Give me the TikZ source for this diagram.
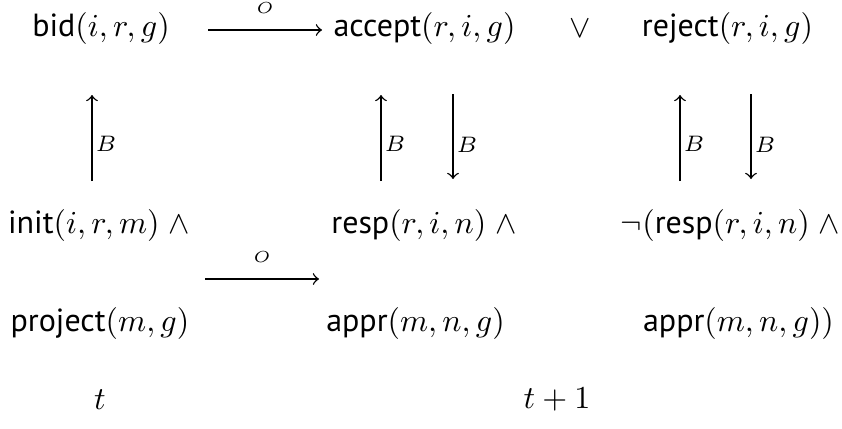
\documentclass[tikz,border=0pt]{standalone}
\usepackage[no-math]{fontspec}
\setsansfont{PT Sans}
\begin{document}
\begin{tikzpicture}[x=0.3125pt,y=-0.3125pt,
  term/.style={inner sep=0pt, font=\normalsize},
  lab/.style={inner sep=1pt, font=\scriptsize},
  olab/.style={inner sep=0pt, font=\tiny},
  conn/.style={->, line width=0.45pt},
]
\useasboundingbox (0,0) rectangle (842,428);
% row 1
\node[term] (bid) at (101,29) {\textsf{bid}$(i,r,g)$};
\node[term] (accept) at (424.5,29) {\textsf{accept}$(r,i,g)$};
\node[term] (vee) at (580,29) {$\vee$};
\node[term] (reject) at (727.5,29) {\textsf{reject}$(r,i,g)$};
% row 2
\node[term] (init) at (99,225) {\textsf{init}$(i,r,m)\;\wedge$};
\node[term] (resp) at (424,225) {\textsf{resp}$(r,i,n)\;\wedge$};
\node[term] (nresp) at (730.5,225) {$\neg($\textsf{resp}$(r,i,n)\;\wedge$};
% row 3
\node[term] (project) at (100,323) {\textsf{project}$(m,g)$};
\node[term] (appr) at (415.5,323) {\textsf{appr}$(m,n,g)$};
\node[term] (nappr) at (738.5,323) {\textsf{appr}$(m,n,g))$};
% time labels
\node[term] (t0) at (100,400) {$t$};
\node[term] (t1) at (557,400) {$t+1$};
% horizontal O arrows
\coordinate (h1s) at (208,30); \coordinate (h1e) at (322,30);
\coordinate (h2s) at (205,279); \coordinate (h2e) at (319,279);
\draw[conn] (h1s) -- node[olab, above=5pt] {$O$} (h1e);
\draw[conn] (h2s) -- node[olab, above=5pt] {$O$} (h2e);
% vertical B arrows
\coordinate (u1b) at (92,181); \coordinate (u1t) at (92,95);
\coordinate (u2b) at (381,181); \coordinate (u2t) at (381,95);
\coordinate (d2t) at (453,94); \coordinate (d2b) at (453,179);
\coordinate (u3b) at (680,181); \coordinate (u3t) at (680,95);
\coordinate (d3t) at (751,94); \coordinate (d3b) at (751,179);
\draw[conn] (u1b) -- node[lab, right, pos=0.43] {$B$} (u1t);
\draw[conn] (u2b) -- node[lab, right, pos=0.43] {$B$} (u2t);
\draw[conn] (d2t) -- node[lab, right, pos=0.6] {$B$} (d2b);
\draw[conn] (u3b) -- node[lab, right, pos=0.43] {$B$} (u3t);
\draw[conn] (d3t) -- node[lab, right, pos=0.6] {$B$} (d3b);
\end{tikzpicture}
\end{document}
